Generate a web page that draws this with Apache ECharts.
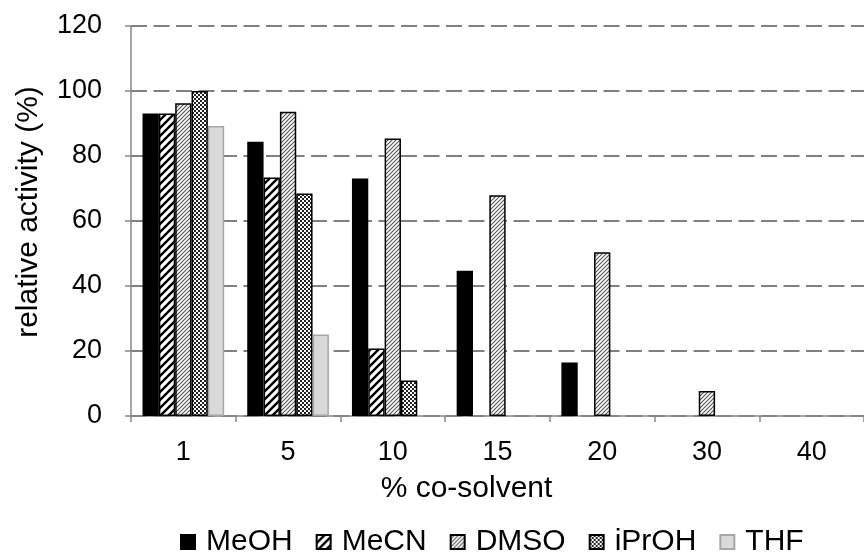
<!DOCTYPE html>
<html><head><meta charset="utf-8">
<script src="https://cdn.jsdelivr.net/npm/echarts@6/dist/echarts.min.js"></script>
<style>html,body{margin:0;padding:0;background:#fff}#c{width:864px;height:553px}</style>
</head><body><div id="c"></div>
<script>
const categories = ['1','5','10','15','20','30','40'];
const MeOH  = [93.1, 84.4, 73.1, 44.7, 16.5, null, null];
const MeCN  = [93.1, 73.4, 20.8, null, null, null, null];
const DMSO  = [96.2, 93.6, 85.4, 67.9, 50.4, 7.7, null];
const iPrOH = [100, 68.5, 10.9, null, null, null, null];
const THF   = [89.2, 25.1, null, null, null, null, null];
const seriesNames = ['MeOH','MeCN','DMSO','iPrOH','THF'];

function makeCanvas(size, draw){
  const c = document.createElement('canvas');
  c.width = size; c.height = size;
  const ctx = c.getContext('2d');
  ctx.fillStyle = '#fff'; ctx.fillRect(0,0,size,size);
  draw(ctx, size);
  return c;
}
function diag(ctx, s, w, col){
  ctx.strokeStyle = col; ctx.lineWidth = w; ctx.lineCap='square';
  ctx.beginPath();
  ctx.moveTo(-2, s+2); ctx.lineTo(s+2, -2);
  ctx.moveTo(-2, 2); ctx.lineTo(2, -2);
  ctx.moveTo(s-2, s+2); ctx.lineTo(s+2, s-2);
  ctx.stroke();
}
const pMeCN = makeCanvas(8, (ctx,s)=>diag(ctx,s,2.4,'#000'));
const pDMSO = makeCanvas(4, (ctx,s)=>diag(ctx,s,1.1,'#555'));
const pIPr  = makeCanvas(4, (ctx,s)=>{ctx.fillStyle='#222';ctx.fillRect(0,0,2,2);ctx.fillRect(2,2,2,2);});

const fills = [
  '#000',
  {image: pMeCN, repeat: 'repeat'},
  {image: pDMSO, repeat: 'repeat'},
  {image: pIPr, repeat: 'repeat'},
  '#d9d9d9'
];
const borders = ['#000','#000','#000','#000','#a6a6a6'];
const dataArr = [MeOH, MeCN, DMSO, iPrOH, THF];

const chart = echarts.init(document.getElementById('c'));
chart.setOption({
  animation: false,
  textStyle: {fontFamily: 'Liberation Sans, Arial, sans-serif'},
  grid: {left: 131, right: -9, top: 26, bottom: 137},
  legend: {
    top: 522, left: 175,
    itemWidth: 14, itemHeight: 14, itemGap: 23,
    icon: 'rect',
    textStyle: {fontSize: 30, color: '#000', padding: [0,0,0,6]},
    data: seriesNames
  },
  xAxis: {
    type: 'category', data: categories,
    name: '% co-solvent', nameLocation: 'middle', nameGap: 58,
    nameTextStyle: {fontSize: 30, color: '#000', padding: [0,62,0,0]},
    axisLine: {lineStyle: {color: '#868686', width: 1.5}},
    axisTick: {show: true, length: 6, lineStyle: {color: '#868686', width: 1.5}},
    axisLabel: {fontSize: 27, color: '#000', margin: 23},
    splitLine: {show: false}
  },
  yAxis: {
    type: 'value', min: 0, max: 120, interval: 20,
    name: 'relative activity (%)', nameLocation: 'middle', nameGap: 87,
    nameTextStyle: {fontSize: 30, color: '#000', padding: [0,0,0,18]},
    axisLine: {show: true, lineStyle: {color: '#868686', width: 1.5}},
    axisTick: {show: true, length: 6, lineStyle: {color: '#868686', width: 1.5}},
    axisLabel: {fontSize: 27, color: '#000', margin: 29},
    splitLine: {lineStyle: {color: '#808080', width: 2, type: [16, 6.5]}}
  },
  series: seriesNames.map((n,i)=>({
    name: n, type: 'bar', data: dataArr[i],
    barGap: '0%', barCategoryGap: '22%',
    itemStyle: {color: fills[i], borderColor: borders[i], borderWidth: 1.5}
  }))
});
</script></body></html>
